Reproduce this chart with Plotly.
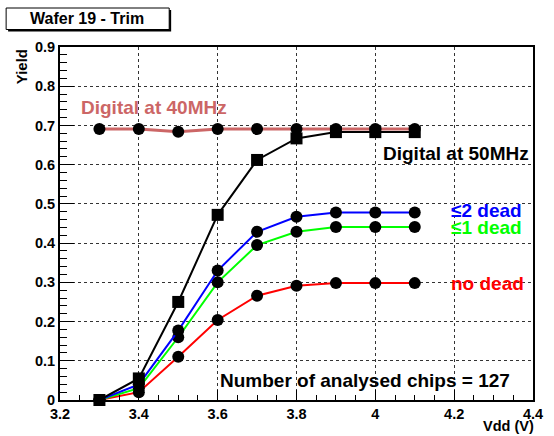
import plotly.graph_objects as go

vdd = [3.3, 3.4, 3.5, 3.6, 3.7, 3.8, 3.9, 4.0, 4.1]
digital_40 = [0.691, 0.691, 0.684, 0.691, 0.691, 0.691, 0.691, 0.691, 0.691]
digital_50 = [0.0, 0.055, 0.25, 0.472, 0.612, 0.667, 0.683, 0.683, 0.683]
le2_dead = [0.0, 0.04, 0.177, 0.33, 0.429, 0.467, 0.478, 0.478, 0.478]
le1_dead = [0.0, 0.03, 0.16, 0.30, 0.395, 0.429, 0.441, 0.441, 0.441]
no_dead = [0.0, 0.02, 0.11, 0.204, 0.266, 0.291, 0.298, 0.298, 0.298]

x_ticks = [3.2, 3.4, 3.6, 3.8, 4.0, 4.2, 4.4]
x_tick_labels = ["3.2", "3.4", "3.6", "3.8", "4", "4.2", "4.4"]
y_ticks = [0, 0.1, 0.2, 0.3, 0.4, 0.5, 0.6, 0.7, 0.8, 0.9]
y_tick_labels = ["0", "0.1", "0.2", "0.3", "0.4", "0.5", "0.6", "0.7", "0.8", "0.9"]

FONT = "Liberation Sans, Arial, Helvetica, sans-serif"
ROSE = "#cc6666"

fig = go.Figure()

def add(y, color, width, symbol):
    fig.add_trace(go.Scatter(
        x=vdd, y=y, mode="lines+markers",
        line=dict(color=color, width=width),
        marker=dict(color="black", size=12, symbol=symbol, line=dict(width=0)),
        showlegend=False, cliponaxis=False))

add(digital_40, ROSE, 3, "circle")
add(no_dead, "#ff0000", 2, "circle")
add(le1_dead, "#00ff00", 2, "circle")
add(le2_dead, "#0000ff", 2, "circle")
add(digital_50, "black", 2, "square")

W, H = 554, 436
L, R, T, B = 60, 11, 47, 36

fig.update_layout(
    width=W, height=H,
    margin=dict(l=L, r=R, t=T, b=B, pad=0),
    paper_bgcolor="white", plot_bgcolor="white",
    font=dict(family=FONT, size=14, color="black"),
    xaxis=dict(range=[3.2, 4.4], tickvals=x_ticks,
               ticktext=["<b>%s</b>" % t for t in x_tick_labels],
               ticks="inside", ticklen=10, tickwidth=1, tickcolor="black",
               showline=True, linecolor="black", linewidth=2, mirror=True,
               showgrid=True, gridcolor="#333333", griddash="dot", gridwidth=1,
               minor=dict(dtick=0.05, ticks="inside", ticklen=5, tickcolor="black", showgrid=False),
               zeroline=False, tickfont=dict(size=14.5)),
    yaxis=dict(range=[0, 0.9], tickvals=y_ticks,
               ticktext=["<b>%s</b>" % t for t in y_tick_labels],
               ticks="inside", ticklen=14, tickwidth=1, tickcolor="black",
               showline=True, linecolor="black", linewidth=2, mirror=True,
               showgrid=True, gridcolor="#333333", griddash="dot", gridwidth=1,
               minor=dict(dtick=0.02, ticks="inside", ticklen=7, tickcolor="black", showgrid=False),
               zeroline=False, tickfont=dict(size=14.5)),
)

pw, ph = W - L - R, H - T - B
def px(x):
    return (x - L) / pw
def py(y):
    return (H - B - y) / ph

# title box with shadow
fig.add_shape(type="rect", xref="paper", yref="paper",
              x0=px(7), x1=px(173.5), y0=py(31.5), y1=py(10),
              fillcolor="black", line=dict(width=0))
fig.add_shape(type="rect", xref="paper", yref="paper",
              x0=px(5), x1=px(171.5), y0=py(29.5), y1=py(8),
              fillcolor="white", line=dict(color="black", width=1))
fig.add_annotation(xref="paper", yref="paper", x=px(88), y=py(19),
                   text="<b>Wafer 19 - Trim</b>", showarrow=False,
                   font=dict(size=16), xanchor="center", yanchor="middle")

# axis titles
fig.add_annotation(xref="paper", yref="paper", x=px(21), y=py(47),
                   text="<b>Yield</b>", textangle=-90, showarrow=False,
                   font=dict(size=15), xanchor="center", yanchor="top")
fig.add_annotation(xref="paper", yref="paper", x=px(546), y=py(426),
                   text="<b>Vdd (V)</b>", showarrow=False,
                   font=dict(size=14.5), xanchor="right", yanchor="middle")

def label(x, y, text, color):
    fig.add_annotation(x=x, y=y, xref="x", yref="y", text="<b>" + text + "</b>",
                       showarrow=False, xanchor="left", yanchor="middle",
                       font=dict(size=19, color=color))

label(3.248, 0.745, "Digital at 40MHz", ROSE)
label(4.015, 0.628, "Digital at 50MHz", "black")
label(4.188, 0.483, "≤2 dead", "#0000ff")
label(4.188, 0.440, "≤1 dead", "#00ff00")
label(4.188, 0.298, "no dead", "#ff0000")
label(3.6, 0.051, "Number of analysed chips = 127", "black")

fig.write_html("out.html", config={"displayModeBar": False},
               post_script="document.body.style.margin='0px';document.body.style.padding='0px';")
